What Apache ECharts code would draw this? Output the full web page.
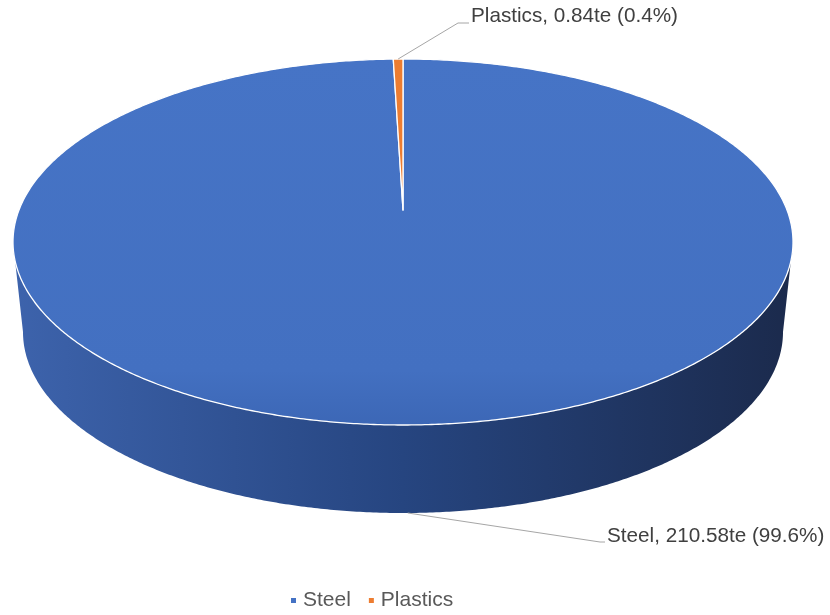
<!DOCTYPE html>
<html>
<head>
<meta charset="utf-8">
<script src="https://cdn.jsdelivr.net/npm/echarts@6/dist/echarts.min.js"></script>
<style>
  html, body { margin: 0; padding: 0; background: #ffffff; }
  #chart { width: 830px; height: 615px; }
</style>
</head>
<body>
<div id="chart"></div>
<script>
// Material quantities (tonnes)
const categories = ['Steel', 'Plastics'];
const tonnes = [210.58, 0.84];
const unit = 'te';

const palette = ['#4472C4', '#ED7D31'];
const sideShades = [['#3d63ac', '#264580', '#1b2a4c'], ['#d86e28', '#b95a1c', '#8a4212']];

// Tilted-disc geometry
const CX = 403, CY = 242;        // centre of the top ellipse
const RX = 390, RY = 183;        // top ellipse radii
const APEX_Y = 210;              // where the slices meet on the top face
const DEPTH = 90;                // thickness of the disc
const BOTTOM_RX = 380, BOTTOM_RY = 181;

const FONT = '20.7px "Liberation Sans", Arial, sans-serif';

// Leader lines and label boxes
const labelLayout = [
  { rim: 'bottom', elbow: [600, 542], end: [605, 542], text: [607, 536] },
  { rim: 'top',    elbow: [458, 23],  end: [469, 23],  text: [471, 16] }
];

const total = tonnes.reduce((a, b) => a + b, 0);
const startAngles = [];
(function () {
  let acc = 0;
  tonnes.forEach(v => { startAngles.push(acc / total * 360); acc += v; });
})();

const rad = d => d * Math.PI / 180;
// angle measured clockwise from 12 o'clock
const topPt = t => [CX + RX * Math.sin(rad(t)), CY - RY * Math.cos(rad(t))];
const botPt = t => [CX + BOTTOM_RX * Math.sin(rad(t)), CY + DEPTH - BOTTOM_RY * Math.cos(rad(t))];

function arc(fn, a, b) {
  const pts = [];
  const n = Math.max(2, Math.ceil(Math.abs(b - a) / 0.5));
  for (let k = 0; k <= n; k++) pts.push(fn(a + (b - a) * k / n));
  return pts;
}

function renderSlice(params, api) {
  const i = params.seriesIndex;
  const value = api.value(0);
  const a0 = startAngles[i];
  const a1 = a0 + value / total * 360;
  const children = [];

  // visible front wall (between 3 o'clock and 9 o'clock)
  const s = Math.max(a0, 90), e = Math.min(a1, 270);
  if (e > s) {
    const shade = sideShades[i];
    const pts = arc(topPt, s, e).concat(arc(botPt, e, s));
    children.push({
      type: 'polygon',
      z2: 1,
      shape: { points: pts },
      style: {
        fill: {
          type: 'linear', global: true,
          x: CX - RX, y: 0, x2: CX + RX, y2: 0,
          colorStops: [
            { offset: 0, color: shade[0] },
            { offset: 0.5, color: shade[1] },
            { offset: 1, color: shade[2] }
          ]
        },
        stroke: null
      }
    });
  }

  // top face
  const top = [[CX, APEX_Y]].concat(arc(topPt, a0, a1));
  children.push({
    type: 'polygon',
    z2: 5,
    shape: { points: top },
    style: {
      fill: {
        type: 'linear', global: true,
        x: 0, y: CY - RY, x2: 0, y2: CY + RY,
        colorStops: [
          { offset: 0, color: i === 0 ? '#4674c6' : palette[i] },
          { offset: 0.85, color: i === 0 ? '#4370c1' : palette[i] },
          { offset: 1, color: i === 0 ? '#3c67b6' : palette[i] }
        ]
      },
      stroke: '#ffffff',
      lineWidth: 1.3,
      lineJoin: 'round'
    }
  });

  // leader line and label
  const lay = labelLayout[i];
  const mid = (a0 + a1) / 2;
  const anchor = lay.rim === 'top' ? topPt(mid) : botPt(mid);
  children.push({
    type: 'polyline',
    z2: 10,
    shape: { points: [anchor, lay.elbow, lay.end] },
    style: { stroke: '#a6a6a6', lineWidth: 1, fill: null }
  });
  const pct = value / total * 100;
  children.push({
    type: 'text',
    z2: 10,
    style: {
      x: lay.text[0], y: lay.text[1],
      text: categories[i] + ', ' + value.toFixed(2) + unit + ' (' + pct.toFixed(1) + '%)',
      fill: '#404040',
      font: FONT,
      textAlign: 'left',
      textVerticalAlign: 'middle'
    }
  });

  return { type: 'group', children: children };
}

const chart = echarts.init(document.getElementById('chart'), null, { renderer: 'canvas' });
chart.setOption({
  animation: false,
  backgroundColor: '#ffffff',
  color: palette,
  textStyle: { fontFamily: '"Liberation Sans", Arial, sans-serif' },
  legend: {
    top: 590,
    left: 291,
    padding: [0, 0, 0, 0],
    data: categories,
    icon: 'rect',
    itemWidth: 5,
    itemHeight: 5,
    itemGap: 18,
    textStyle: { fontSize: 21, color: '#595959', padding: [0, 0, 0, 2] }
  },
  series: categories.map((name, i) => ({
    type: 'custom',
    name: name,
    coordinateSystem: 'none',
    itemStyle: { color: palette[i] },
    renderItem: renderSlice,
    data: [[tonnes[i]]]
  }))
});
</script>
</body>
</html>
